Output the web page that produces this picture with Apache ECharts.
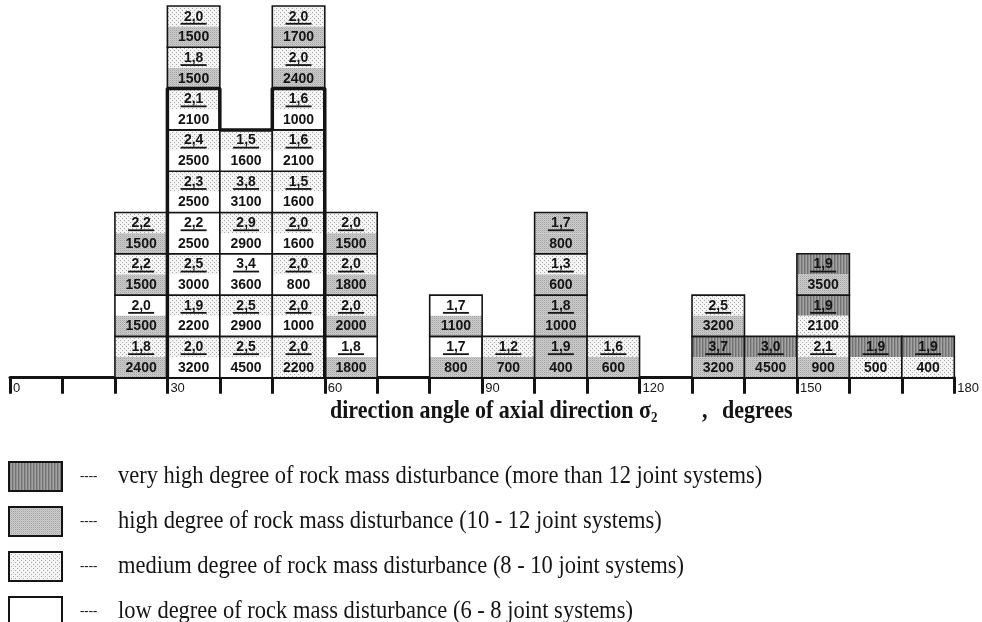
<!DOCTYPE html>
<html>
<head>
<meta charset="utf-8">
<title>Rock mass disturbance by direction angle of σ2</title>
<script src="https://cdn.jsdelivr.net/npm/echarts@6/dist/echarts.min.js"></script>
<style>
  html, body { margin: 0; padding: 0; background: #fff; }
  #chart { width: 982px; height: 622px; }
</style>
</head>
<body>
<div id="chart"></div>
<script>
// Direction bins (start angle, degrees); each bin is 10 degrees wide.
const binStart = [20, 30, 40, 50, 60, 80, 90, 100, 110, 130, 140, 150, 160, 170];
const binWidth = 10;

// Per bin, cells listed from the axis upward.
// Upper number of each cell (ratio, printed with a decimal comma).
const ratioCol = [
  [1.8, 2.0, 2.2, 2.2],
  [2.0, 1.9, 2.5, 2.2, 2.3, 2.4, 2.1, 1.8, 2.0],
  [2.5, 2.5, 3.4, 2.9, 3.8, 1.5],
  [2.0, 2.0, 2.0, 2.0, 1.5, 1.6, 1.6, 2.0, 2.0],
  [1.8, 2.0, 2.0, 2.0],
  [1.7, 1.7],
  [1.2],
  [1.9, 1.8, 1.3, 1.7],
  [1.6],
  [3.7, 2.5],
  [3.0],
  [2.1, 1.9, 1.9],
  [1.9],
  [1.9]
];
// Lower number of each cell.
const depthCol = [
  [2400, 1500, 1500, 1500],
  [3200, 2200, 3000, 2500, 2500, 2500, 2100, 1500, 1500],
  [4500, 2900, 3600, 2900, 3100, 1600],
  [2200, 1000, 800, 1600, 1600, 2100, 1000, 2400, 1700],
  [1800, 2000, 1800, 1500],
  [800, 1100],
  [700],
  [400, 1000, 600, 800],
  [600],
  [3200, 3200],
  [4500],
  [900, 2100, 3500],
  [500],
  [400]
];
// Disturbance grade of the upper / lower half of each cell
// (0 low, 1 medium, 2 high, 3 very high).
const upperGrade = [
  [1, 0, 1, 1],
  [1, 1, 1, 0, 1, 1, 1, 1, 1],
  [1, 1, 0, 1, 1, 1],
  [1, 1, 1, 1, 1, 1, 1, 1, 1],
  [0, 1, 1, 1],
  [0, 0],
  [1],
  [2, 2, 1, 2],
  [1],
  [3, 1],
  [3],
  [1, 3, 3],
  [3],
  [3]
];
const lowerGrade = [
  [2, 2, 2, 2],
  [0, 0, 0, 0, 0, 0, 0, 2, 2],
  [0, 0, 0, 0, 0, 0],
  [1, 0, 0, 0, 0, 0, 0, 2, 2],
  [2, 2, 2, 2],
  [2, 2],
  [2],
  [2, 2, 2, 2],
  [2],
  [2, 2],
  [2],
  [2, 1, 2],
  [1],
  [1]
];

// Highlighted zone (angle, cell level) traced with a heavy outline.
const zoneOutline = [[30, 0], [30, 7], [40, 7], [40, 6], [50, 6], [50, 7], [60, 7], [60, 0]];

// Axis tick labels (every 30 degrees).
const tickLabels = ['0', '30', '60', '90', '120', '150', '180'];
const tickLabelStep = 30;

// Legend entries, from the highest grade down.
const gradeNames = [
  'very high degree of rock mass disturbance (more than 12 joint systems)',
  'high degree of rock mass disturbance (10 - 12 joint systems)',
  'medium degree of rock mass disturbance (8 - 10 joint systems)',
  'low degree of rock mass disturbance (6 - 8 joint systems)'
];

// ---- hatch fills --------------------------------------------------------
function makePattern(w, h, base, dots) {
  const c = document.createElement('canvas');
  c.width = w; c.height = h;
  const g = c.getContext('2d');
  g.fillStyle = base;
  g.fillRect(0, 0, w, h);
  dots.forEach(function (d) {
    g.fillStyle = d[2];
    g.fillRect(d[0], d[1], 1, 1);
  });
  return { image: c, repeat: 'repeat' };
}
const gradeFill = [
  '#ffffff',
  makePattern(4, 4, '#f4f4f4', [[0, 0, '#a8a8a8'], [2, 2, '#a8a8a8']]),
  makePattern(2, 2, '#cdcdcd', [[0, 0, '#a2a2a2'], [1, 1, '#bdbdbd']]),
  makePattern(3, 1, '#8e8e8e', [[0, 0, '#727272'], [2, 0, '#a3a3a3']])
];

// ---- cell records -------------------------------------------------------
const cells = [];
binStart.forEach(function (x0, i) {
  ratioCol[i].forEach(function (r, level) {
    cells.push([x0, level, upperGrade[i][level], lowerGrade[i][level], r, depthCol[i][level]]);
  });
});

const INK = '#141414';
const CELL_FONT = 'bold 14px "Liberation Sans", Arial, sans-serif';
const SERIF = '"Liberation Serif", "Times New Roman", serif';

function renderCell(params, api) {
  const x0 = api.value(0), level = api.value(1);
  const up = api.value(2), lo = api.value(3);
  const ratio = api.value(4), depth = api.value(5);
  const tl = api.coord([x0, level + 1]);
  const br = api.coord([x0 + binWidth, level]);
  const w = br[0] - tl[0], h = br[1] - tl[1];
  const cx = tl[0] + w / 2;
  const ratioText = ratio.toFixed(1).replace('.', ',');
  const ul = tl[1] + h * 0.43;
  return {
    type: 'group',
    children: [
      { type: 'rect', shape: { x: tl[0], y: tl[1], width: w, height: h / 2 }, style: { fill: gradeFill[up] } },
      { type: 'rect', shape: { x: tl[0], y: tl[1] + h / 2, width: w, height: h / 2 }, style: { fill: gradeFill[lo] } },
      { type: 'rect', shape: { x: tl[0], y: tl[1], width: w, height: h }, style: { fill: 'none', stroke: INK, lineWidth: 1.6 } },
      { type: 'text', style: { text: ratioText, x: cx, y: tl[1] + h * 0.26, align: 'center', verticalAlign: 'middle', font: CELL_FONT, fill: INK } },
      { type: 'line', shape: { x1: cx - 13, y1: ul, x2: cx + 13, y2: ul }, style: { stroke: INK, lineWidth: 1.8 } },
      { type: 'text', style: { text: String(depth), x: cx, y: tl[1] + h * 0.76, align: 'center', verticalAlign: 'middle', font: CELL_FONT, fill: INK } }
    ]
  };
}

// ---- legend (drawn as graphic elements) ---------------------------------
const legendTop = 462, legendStep = 45;
const legendGraphics = [];
gradeNames.forEach(function (name, i) {
  const y = legendTop + i * legendStep;
  legendGraphics.push({
    type: 'rect', x: 9, y: y,
    shape: { x: 0, y: 0, width: 53, height: 29 },
    style: { fill: gradeFill[3 - i], stroke: INK, lineWidth: 2 }
  });
  legendGraphics.push({
    type: 'text', x: 80, y: y + 15,
    style: { text: '----', font: 'bold 13px ' + SERIF, fill: INK, verticalAlign: 'middle' }
  });
  legendGraphics.push({
    type: 'text', x: 118, y: y + 14,
    scaleY: 1.15,
    style: { text: name, font: '22.5px ' + SERIF, fill: INK, verticalAlign: 'middle' }
  });
});

const chart = echarts.init(document.getElementById('chart'), null, { renderer: 'canvas' });
chart.setOption({
  animation: false,
  backgroundColor: '#ffffff',
  grid: { left: 10, right: 24.5, top: 6, bottom: 244.3 },
  xAxis: {
    type: 'value', min: 0, max: 180, interval: binWidth,
    axisLine: { lineStyle: { color: INK, width: 3 } },
    axisTick: { show: true, length: 16, lineStyle: { color: INK, width: 3 } },
    axisLabel: {
      formatter: function (v) { return v % tickLabelStep === 0 ? tickLabels[v / tickLabelStep] : ''; },
      align: 'left', verticalAlign: 'top', margin: 4, padding: [0, 0, 0, 3],
      fontSize: 13, fontFamily: '"Liberation Sans", Arial, sans-serif', color: INK,
      showMinLabel: true, showMaxLabel: true
    },
    splitLine: { show: false }
  },
  yAxis: {
    type: 'value', min: 0, max: 9, show: false,
    splitLine: { show: false }
  },
  series: [
    {
      type: 'custom',
      renderItem: renderCell,
      data: cells,
      encode: { x: 0, y: 1 },
      clip: false,
      z: 2
    },
    {
      type: 'line',
      data: zoneOutline,
      symbol: 'none',
      lineStyle: { color: INK, width: 3.5 },
      z: 5,
      silent: true
    }
  ],
  graphic: [
    {
      type: 'text', x: 330, y: 412, scaleY: 1.1,
      style: {
        text: '{a|direction angle of axial direction σ}{s|2}',
        verticalAlign: 'middle',
        rich: {
          a: { font: 'bold 22px ' + SERIF, fill: INK, lineHeight: 24 },
          s: { font: 'bold 13px ' + SERIF, fill: INK, lineHeight: 13, verticalAlign: 'bottom' }
        }
      }
    },
    {
      type: 'text', x: 702, y: 412, scaleY: 1.1,
      style: { text: ',', font: 'bold 22px ' + SERIF, fill: INK, verticalAlign: 'middle' }
    },
    {
      type: 'text', x: 722, y: 412, scaleY: 1.1,
      style: { text: 'degrees', font: 'bold 22px ' + SERIF, fill: INK, verticalAlign: 'middle' }
    }
  ].concat(legendGraphics)
});
</script>
</body>
</html>
